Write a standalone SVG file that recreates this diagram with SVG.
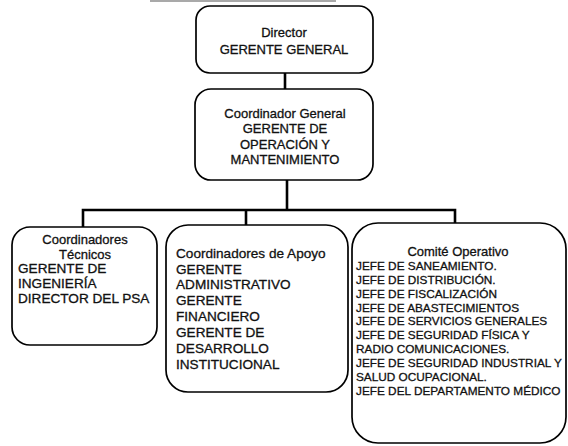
<svg xmlns="http://www.w3.org/2000/svg" width="568" height="446" viewBox="0 0 568 446">
<style>
.box{fill:#fff;stroke:#000;stroke-width:1.7}
.conn{stroke:#000;stroke-width:2.6;fill:none}
text{font-family:"Liberation Sans",Arial,sans-serif;fill:#111;stroke:#111;stroke-width:0.3}
.t13{font-size:13px}
.t135{font-size:13.6px}
.t12{font-size:11.8px}
.c{text-anchor:middle}
</style>
<rect width="568" height="446" fill="#fff"/>
<line x1="150" y1="1" x2="336" y2="1" stroke="#555" stroke-width="1.2"/>
<g id="connectors">
<line class="conn" x1="285" y1="73" x2="285" y2="89"/>
<line class="conn" x1="287" y1="180" x2="287" y2="210"/>
<polyline class="conn" points="83,227 83,210 455,210 455,223"/>
<line class="conn" x1="246" y1="210" x2="246" y2="225"/>
</g>
<g id="director">
<rect class="box" x="196" y="6" width="177" height="67" rx="14"/>
<text class="t13 c" x="284" y="37">Director</text>
<text class="t13 c" x="284" y="54">GERENTE GENERAL</text>
</g>
<g id="coordinador-general">
<rect class="box" x="195" y="89" width="178" height="91" rx="16"/>
<text class="t13 c" x="285" y="118">Coordinador General</text>
<text class="t13 c" x="285" y="133">GERENTE DE</text>
<text class="t13 c" x="285" y="149">OPERACIÓN Y</text>
<text class="t13 c" x="285" y="164">MANTENIMIENTO</text>
</g>
<g id="coordinadores-tecnicos">
<rect class="box" x="12" y="227" width="145" height="118" rx="18"/>
<text class="t13 c" x="85" y="244">Coordinadores</text>
<text class="t13 c" x="85" y="259">Técnicos</text>
<text class="t135" x="18" y="273">GERENTE DE</text>
<text class="t135" x="18" y="288">INGENIERÍA</text>
<text class="t135" x="18" y="303">DIRECTOR DEL PSA</text>
</g>
<g id="coordinadores-apoyo">
<rect class="box" x="166" y="225" width="182" height="167" rx="22"/>
<text class="t135" x="176" y="258">Coordinadores de Apoyo</text>
<text class="t135" x="176" y="274">GERENTE</text>
<text class="t135" x="176" y="289">ADMINISTRATIVO</text>
<text class="t135" x="176" y="305">GERENTE</text>
<text class="t135" x="176" y="321">FINANCIERO</text>
<text class="t135" x="176" y="337">GERENTE DE</text>
<text class="t135" x="176" y="353">DESARROLLO</text>
<text class="t135" x="176" y="369">INSTITUCIONAL</text>
</g>
<g id="comite-operativo">
<rect class="box" x="352" y="223" width="214" height="220" rx="26"/>
<text class="t13 c" x="458" y="256">Comité Operativo</text>
<text class="t12" x="356" y="270">JEFE DE SANEAMIENTO.</text>
<text class="t12" x="356" y="284">JEFE DE DISTRIBUCIÓN.</text>
<text class="t12" x="356" y="298">JEFE DE FISCALIZACIÓN</text>
<text class="t12" x="356" y="312">JEFE DE ABASTECIMIENTOS</text>
<text class="t12" x="356" y="325">JEFE DE SERVICIOS GENERALES</text>
<text class="t12" x="356" y="339">JEFE DE SEGURIDAD FÍSICA Y</text>
<text class="t12" x="356" y="353">RADIO COMUNICACIONES.</text>
<text class="t12" x="356" y="367">JEFE DE SEGURIDAD INDUSTRIAL Y</text>
<text class="t12" x="356" y="381">SALUD OCUPACIONAL.</text>
<text class="t12" x="356" y="395">JEFE DEL DEPARTAMENTO MÉDICO</text>
</g>
</svg>
